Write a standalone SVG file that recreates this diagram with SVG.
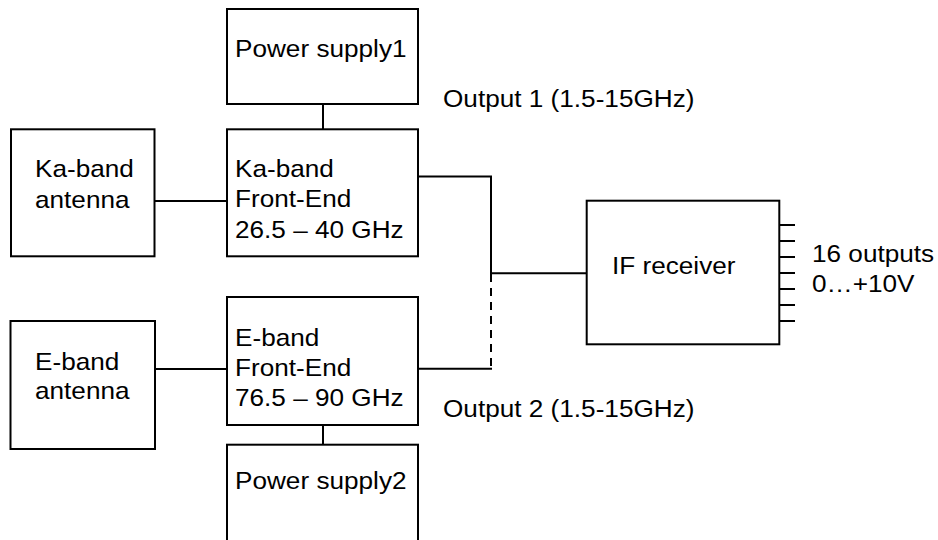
<svg xmlns="http://www.w3.org/2000/svg" width="938" height="540" viewBox="0 0 938 540">
<style>
.box{fill:#fff;stroke:#000;stroke-width:2}
.ln{fill:none;stroke:#000;stroke-width:2}
.dash{fill:none;stroke:#000;stroke-width:2;stroke-dasharray:8 6}
text{font-family:"Liberation Sans",Arial,Helvetica,sans-serif;font-size:24px;fill:#000}
</style>
<rect width="938" height="540" fill="#fff"/>
<g id="connectors">
<line class="ln" x1="323" y1="104" x2="323" y2="129"/>
<line class="ln" x1="323" y1="425" x2="323" y2="445"/>
<line class="ln" x1="154" y1="201" x2="227" y2="201"/>
<line class="ln" x1="155" y1="369" x2="227" y2="369"/>
<polyline class="ln" points="418,176.5 491,176.5 491,273.3 587,273.3"/>
<line class="dash" x1="491" y1="274" x2="491" y2="366"/>
<line class="ln" x1="418" y1="368.7" x2="492" y2="368.7"/>
<line class="ln" x1="779" y1="225" x2="795" y2="225"/>
<line class="ln" x1="779" y1="241" x2="795" y2="241"/>
<line class="ln" x1="779" y1="257" x2="795" y2="257"/>
<line class="ln" x1="779" y1="273" x2="795" y2="273"/>
<line class="ln" x1="779" y1="289" x2="795" y2="289"/>
<line class="ln" x1="779" y1="305" x2="795" y2="305"/>
<line class="ln" x1="779" y1="321" x2="795" y2="321"/>
</g>
<g id="ps1">
<rect class="box" x="227" y="9" width="191" height="95"/>
<text transform="matrix(1.09 0 0 1 235 57)">Power supply1</text>
</g>
<g id="ka-antenna">
<rect class="box" x="11" y="129.3" width="143.5" height="127"/>
<text transform="matrix(1.09 0 0 1 35 177.3)">Ka-band</text>
<text transform="matrix(1.09 0 0 1 35 208.3)">antenna</text>
</g>
<g id="ka-fe">
<rect class="box" x="227" y="129.3" width="191" height="127"/>
<text transform="matrix(1.09 0 0 1 235 176.7)">Ka-band</text>
<text transform="matrix(1.09 0 0 1 235 207)">Front-End</text>
<text transform="matrix(1.09 0 0 1 235 237.7)">26.5 – 40 GHz</text>
</g>
<g id="e-antenna">
<rect class="box" x="10.5" y="321" width="144.5" height="128"/>
<text transform="matrix(1.09 0 0 1 35 370)">E-band</text>
<text transform="matrix(1.09 0 0 1 35 399.3)">antenna</text>
</g>
<g id="e-fe">
<rect class="box" x="227" y="297" width="191" height="128"/>
<text transform="matrix(1.09 0 0 1 235 345.7)">E-band</text>
<text transform="matrix(1.09 0 0 1 235 376)">Front-End</text>
<text transform="matrix(1.09 0 0 1 235 406)">76.5 – 90 GHz</text>
</g>
<g id="ps2">
<rect class="box" x="227" y="444.7" width="191" height="110"/>
<text transform="matrix(1.09 0 0 1 235 489)">Power supply2</text>
</g>
<g id="if-receiver">
<rect class="box" x="586.7" y="200.7" width="192.6" height="143.6"/>
<text transform="matrix(1.09 0 0 1 612 274)">IF receiver</text>
</g>
<g id="labels">
<text transform="matrix(1.09 0 0 1 443 106.5)">Output 1 (1.5-15GHz)</text>
<text transform="matrix(1.09 0 0 1 443 416.5)">Output 2 (1.5-15GHz)</text>
<text transform="matrix(1.09 0 0 1 812 262)">16 outputs</text>
<text transform="matrix(1.09 0 0 1 812 292)">0…+10V</text>
</g>
</svg>
